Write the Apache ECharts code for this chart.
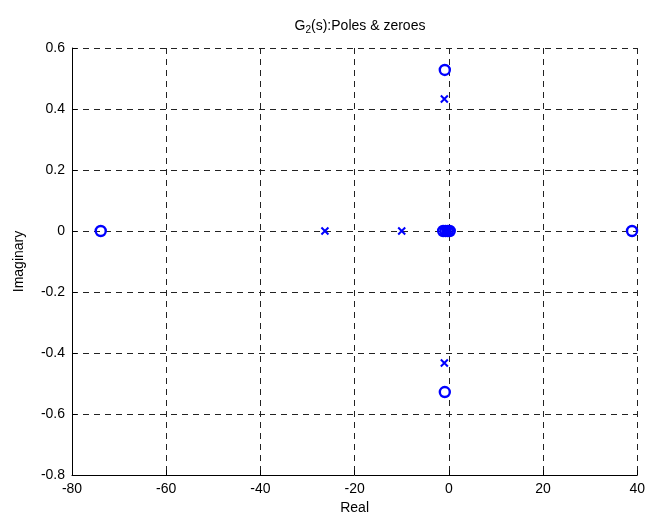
<!DOCTYPE html>
<html>
<head>
<meta charset="utf-8">
<script src="https://cdn.jsdelivr.net/npm/echarts@6/dist/echarts.min.js"></script>
<style>html,body{margin:0;padding:0;background:#fff}#c{width:648px;height:520px}</style>
</head>
<body>
<div id="c"></div>
<script>
// Zeros (o markers): real and imaginary parts
const zerosRe = [-73.9, -0.85, -0.85, 38.9, -1.2, -0.7, -0.2, 0.2];
const zerosIm = [0, 0.528, -0.528, 0, 0, 0, 0, 0];
// Poles (x markers)
const polesRe = [-26.3, -10.0, -0.95, -0.95, -0.9, -0.4, 0.0];
const polesIm = [0, 0, 0.433, -0.433, 0, 0, 0];
// Axes
const xMin = -80, xMax = 40, xStep = 20;
const yMin = -0.8, yMax = 0.6, yStep = 0.2;

const FONT = '"Liberation Sans", Arial, sans-serif';
const FS = 14;
const BLUE = '#0000ff';
const zeros = zerosRe.map((r, i) => [r, zerosIm[i]]);
const poles = polesRe.map((r, i) => [r, polesIm[i]]);

const chart = echarts.init(document.getElementById('c'), null, {renderer: 'canvas'});
chart.setOption({
  backgroundColor: '#fff',
  animation: false,
  title: {
    text: '{a|G}{s|2}{a|(s):Poles & zeroes}',
    left: 355, top: 12, textAlign: 'center',
    textStyle: {
      fontWeight: 'normal',
      rich: {
        a: {fontFamily: FONT, fontSize: FS, color: '#000', fontWeight: 'normal'},
        s: {fontFamily: FONT, fontSize: 10, color: '#000', fontWeight: 'normal', verticalAlign: 'bottom', padding: [8, 0, 0, 0]}
      }
    }
  },
  grid: {left: 72, right: 9, top: 48, bottom: 44, containLabel: false},
  xAxis: {
    type: 'value', min: xMin, max: xMax, interval: xStep,
    name: 'Real', nameLocation: 'middle', nameGap: 26,
    nameTextStyle: {fontFamily: FONT, fontSize: FS, color: '#000'},
    axisLine: {show: true, onZero: false, lineStyle: {color: '#000', width: 1}},
    axisTick: {show: true, inside: true, length: 5, lineStyle: {color: '#000'}},
    axisLabel: {fontFamily: FONT, fontSize: FS, color: '#000', margin: 7},
    splitLine: {show: true, lineStyle: {color: '#222', width: 1, type: [6, 5]}}
  },
  yAxis: {
    type: 'value', min: yMin, max: yMax, interval: yStep,
    name: 'Imaginary', nameLocation: 'middle', nameGap: 46,
    nameTextStyle: {fontFamily: FONT, fontSize: FS, color: '#000'},
    axisLine: {show: true, onZero: false, lineStyle: {color: '#000', width: 1}},
    axisTick: {show: true, inside: true, length: 5, lineStyle: {color: '#000'}},
    axisLabel: {fontFamily: FONT, fontSize: FS, color: '#000', margin: 7,
      formatter: v => (Math.abs(v) < 1e-9 ? '0' : v.toFixed(1))},
    splitLine: {show: true, lineStyle: {color: '#222', width: 1, type: [6, 5]}}
  },
  series: [
    {
      name: 'zeros', type: 'scatter', data: zeros,
      symbol: 'circle', symbolSize: 10,
      itemStyle: {color: 'rgba(0,0,0,0)', borderColor: BLUE, borderWidth: 2.4, opacity: 1}
    },
    {
      name: 'poles', type: 'scatter', data: poles,
      symbol: 'path://M0,0L10,10M10,0L0,10', symbolSize: 7,
      itemStyle: {color: 'rgba(0,0,0,0)', borderColor: BLUE, borderWidth: 2, opacity: 1}
    }
  ]
});
</script>
</body>
</html>
